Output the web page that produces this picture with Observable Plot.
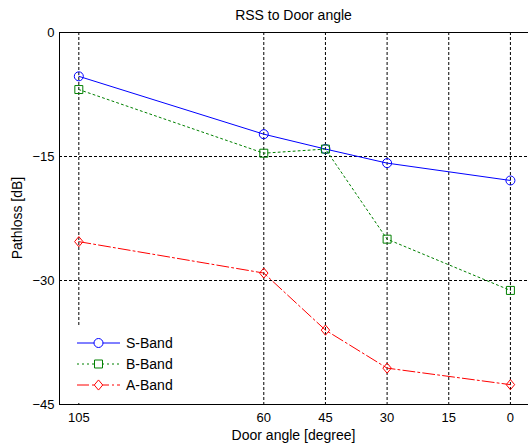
<!DOCTYPE html>
<html>
<head>
<meta charset="utf-8">
<script src="https://cdn.jsdelivr.net/npm/d3@7"></script>
<script src="https://cdn.jsdelivr.net/npm/@observablehq/plot@0.6"></script>
<style>
  html, body { margin: 0; padding: 0; background: #fff; }
  svg { font-family: "Liberation Sans", Arial, sans-serif; }
</style>
</head>
<body>
<div id="chart"></div>
<script>
const angles = [105, 60, 45, 30, 0];
const xTicks = [105, 60, 45, 30, 15, 0];
const yTicks = [0, -15, -30, -45];
const sBand = [-5.3, -12.3, -14.1, -15.8, -17.9];
const bBand = [-6.9, -14.6, -14.1, -25.0, -31.2];
const aBand = [-25.3, -29.1, -36.0, -40.6, -42.6];
const seriesNames = ["S-Band", "B-Band", "A-Band"];
const colors = ["#0000ff", "#008000", "#ff0000"];
const dashes = [null, "2,3", "12,3,2,3"];

(function () {
const rhombus = {
  draw(ctx, size) {
    const w = Math.sqrt(size) * 0.53, h = w * 1.2;
    ctx.moveTo(0, -h); ctx.lineTo(w, 0); ctx.lineTo(0, h); ctx.lineTo(-w, 0); ctx.closePath();
  }
};
const symbolObjs = [d3.symbolCircle, d3.symbolSquare, rhombus];
const seriesValues = [sBand, bBand, aBand];
const rows = seriesValues.flatMap((vals, i) =>
  vals.map((v, j) => ({series: seriesNames[i], angle: angles[j], db: v, idx: i})));

const marks = [
  Plot.ruleX(xTicks, {stroke: "#000", strokeDasharray: "3,2", strokeWidth: 1}),
  Plot.ruleY([-15, -30], {stroke: "#000", strokeDasharray: "3,2", strokeWidth: 1}),
  Plot.ruleY([0, -45], {stroke: "#000", strokeWidth: 1}),
  Plot.ruleX([109.7], {stroke: "#000", strokeWidth: 1}),
];
seriesNames.forEach((name, i) => {
  const d = rows.filter(r => r.idx === i);
  marks.push(Plot.line(d, {x: "angle", y: "db", stroke: colors[i], strokeWidth: 1,
    strokeDasharray: dashes[i] || undefined}));
  marks.push(Plot.dot(d, {x: "angle", y: "db", stroke: colors[i], fill: "none",
    symbol: symbolObjs[i], r: 4.5, strokeWidth: 1}));
});
marks.push(Plot.axisX(xTicks, {tickSize: 0, tickPadding: 8, fontSize: 13, label: null}));
marks.push(Plot.axisY(yTicks, {tickSize: 0, tickPadding: 5, fontSize: 13, label: null}));

const plot = Plot.plot({
  width: 528,
  height: 444,
  marginTop: 32,
  marginBottom: 40,
  marginLeft: 59,
  marginRight: 0,
  style: {fontSize: "13px", fontFamily: "'Liberation Sans', Arial, sans-serif", color: "#000", background: "#fff"},
  x: {domain: [109.7, -4.4], axis: null},
  y: {domain: [-45, 0], axis: null},
  marks
});

const svg = d3.select(plot);
const xs = plot.scale("x"), ys = plot.scale("y");
const pLeft = xs.apply(109.7), pRight = xs.apply(-4.4);
const pTop = ys.apply(0), pBottom = ys.apply(-45);
const cx = (pLeft + pRight) / 2;

svg.append("text").attr("x", cx).attr("y", pTop - 12).attr("text-anchor", "middle")
  .attr("font-size", 14).attr("fill", "#000").text("RSS to Door angle");
svg.append("text").attr("x", cx).attr("y", pBottom + 36).attr("text-anchor", "middle")
  .attr("font-size", 14).attr("fill", "#000").text("Door angle [degree]");
svg.append("text").attr("transform", `translate(${pLeft - 37},${(pTop + pBottom) / 2}) rotate(-90)`)
  .attr("text-anchor", "middle").attr("font-size", 14).attr("fill", "#000").text("Pathloss [dB]");

const lg = svg.append("g");
lg.append("rect").attr("x", pLeft + 1).attr("y", pBottom - 78).attr("width", 130).attr("height", 77).attr("fill", "#fff");
seriesNames.forEach((name, i) => {
  const y = pBottom - 61 + i * 21;
  const x0 = pLeft + 18, x1 = pLeft + 61, xm = (x0 + x1) / 2;
  lg.append("line").attr("x1", x0).attr("x2", x1).attr("y1", y).attr("y2", y)
    .attr("stroke", colors[i]).attr("stroke-width", 1)
    .attr("stroke-dasharray", dashes[i]);
  lg.append("path").attr("transform", `translate(${xm},${y})`)
    .attr("d", d3.symbol(symbolObjs[i], Math.PI * 4.5 * 4.5)())
    .attr("fill", "#fff").attr("stroke", colors[i]).attr("stroke-width", 1);
  lg.append("text").attr("x", pLeft + 67).attr("y", y).attr("dy", "0.35em")
    .attr("text-anchor", "start")
    .attr("font-size", 14).attr("fill", "#000").text(name);
});

document.getElementById("chart").appendChild(plot);
})();
</script>
</body>
</html>
